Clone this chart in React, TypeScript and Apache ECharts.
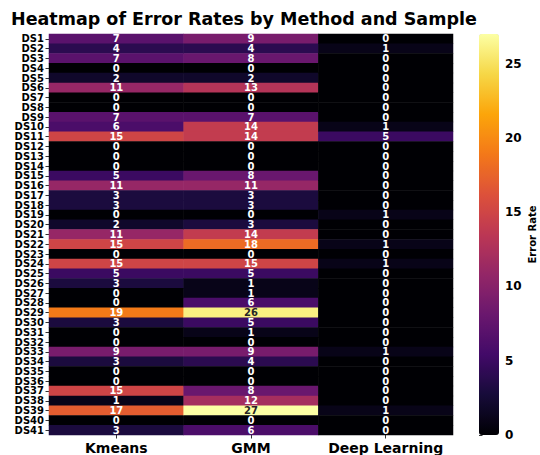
import React, { useEffect, useRef } from "react";
import * as echarts from "echarts";

const samples = Array.from({ length: 41 }, (_, i) => `DS${i + 1}`);
const methods = ["Kmeans", "GMM", "Deep Learning"];
const kmeans = [7, 4, 7, 0, 2, 11, 0, 0, 7, 6, 15, 0, 0, 0, 5, 11, 3, 3, 0, 2, 11, 15, 0, 15, 5, 3, 0, 0, 19, 3, 0, 0, 9, 3, 0, 0, 15, 1, 17, 0, 3];
const gmm = [9, 4, 8, 0, 2, 13, 0, 0, 7, 14, 14, 0, 0, 0, 8, 11, 3, 3, 0, 3, 14, 18, 0, 15, 5, 1, 1, 6, 26, 5, 1, 0, 9, 4, 0, 0, 8, 12, 27, 0, 6];
const deepLearning = [0, 1, 0, 0, 0, 0, 0, 0, 0, 1, 5, 0, 0, 0, 0, 0, 0, 0, 1, 0, 0, 1, 0, 1, 0, 0, 0, 0, 0, 0, 0, 0, 1, 0, 0, 0, 0, 0, 1, 0, 0];
const colorbarTicks = [0, 5, 10, 15, 20, 25];
const vMin = 0;
const vMax = 27;

const inferno = [
  "#000004", "#160b39", "#420a68", "#6a176e", "#932667", "#bc3754",
  "#dd513a", "#f37819", "#fca50a", "#f6d746", "#fcffa4",
];

const FONT = "DejaVu Sans";

export default function App() {
  const ref = useRef<HTMLDivElement>(null);
  useEffect(() => {
    document.body.style.margin = "0";
    if (!ref.current) return;
    const chart = echarts.init(ref.current, null, { renderer: "svg" });
    const cols = [kmeans, gmm, deepLearning];
    const data: any[] = [];
    cols.forEach((arr, xi) => {
      arr.forEach((v, yi) => {
        data.push({
          value: [xi, yi, v],
          label: { color: v >= 22 ? "#262626" : "#ffffff" },
        });
      });
    });
    chart.setOption({
      animation: false,
      backgroundColor: "#ffffff",
      textStyle: { fontFamily: FONT },
      title: {
        text: "Heatmap of Error Rates by Method and Sample",
        left: 11,
        top: 10,
        padding: 0,
        textStyle: { fontFamily: FONT, fontSize: 17.5, fontWeight: "bold", color: "#000" },
      },
      grid: [
        { left: 49, top: 34, width: 404, height: 401 },
        { left: 479, top: 34, width: 20, height: 401 },
      ],
      xAxis: [
        {
          type: "category",
          gridIndex: 0,
          data: methods,
          position: "bottom",
          axisLine: { show: false },
          axisTick: { show: true, alignWithLabel: true, length: 3.5, lineStyle: { color: "#333" } },
          axisLabel: { fontFamily: FONT, fontSize: 14, fontWeight: "bold", color: "#000", margin: 6, interval: 0 },
          splitLine: { show: false },
        },
        {
          type: "value",
          gridIndex: 1,
          show: false,
          min: 0,
          max: 1,
        },
      ],
      yAxis: [
        {
          type: "category",
          gridIndex: 0,
          data: samples,
          inverse: true,
          axisLine: { show: false },
          axisTick: { show: true, alignWithLabel: true, length: 3.5, lineStyle: { color: "#333" } },
          axisLabel: {
            fontFamily: FONT,
            fontSize: 10,
            fontWeight: "bold",
            color: "#000",
            margin: 5,
            interval: 0,
          },
          splitLine: { show: false },
        },
        {
          type: "value",
          gridIndex: 1,
          position: "right",
          min: vMin,
          max: vMax,
          interval: 5,
          axisLine: { show: false },
          axisTick: { show: true, length: 3.5, lineStyle: { color: "#333" } },
          axisLabel: {
            fontFamily: FONT,
            fontSize: 12,
            fontWeight: "bold",
            color: "#000",
            margin: 6,
            showMaxLabel: false,
            formatter: (v: number) => (colorbarTicks.includes(v) ? String(v) : ""),
          },
          splitLine: { show: false },
          name: "Error Rate",
          nameLocation: "middle",
          nameRotate: 90,
          nameGap: 28,
          nameTextStyle: { fontFamily: FONT, fontSize: 10, fontWeight: "bold", color: "#000" },
        },
      ],
      visualMap: {
        type: "continuous",
        min: vMin,
        max: vMax,
        seriesIndex: 0,
        show: true,
        calculable: false,
        hoverLink: false,
        left: 479,
        top: 34,
        padding: 0,
        itemWidth: 20,
        itemHeight: 401,
        text: ["", ""],
        showLabel: false,
        inRange: { color: inferno },
      },
      series: [
        {
          type: "heatmap",
          xAxisIndex: 0,
          yAxisIndex: 0,
          data,
          label: {
            show: true,
            fontFamily: FONT,
            fontSize: 10,
            fontWeight: "bold",
          },
          itemStyle: { borderWidth: 0 },
          emphasis: { disabled: true },
        },
      ],
    });
    return () => chart.dispose();
  }, []);
  return <div ref={ref} style={{ width: 540, height: 455 }} />;
}
